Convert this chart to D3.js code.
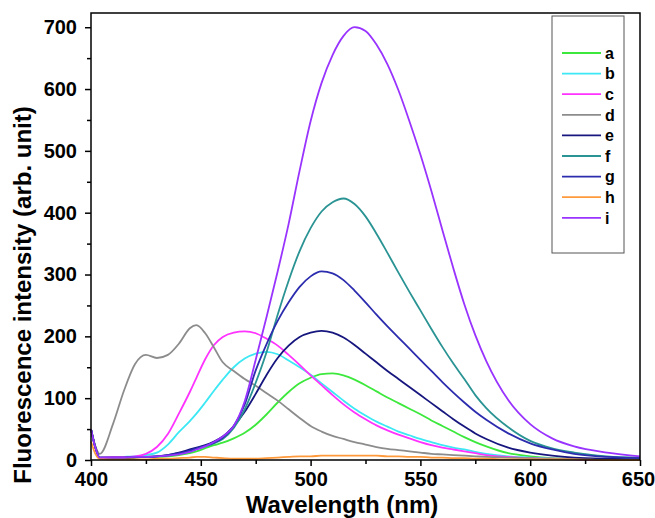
<!DOCTYPE html>
<html>
<head>
<meta charset="utf-8">
<script src="https://cdn.jsdelivr.net/npm/d3@7"></script>
<style>
  body { margin: 0; background: #fff; }
  text { font-family: "Liberation Sans", Arial, sans-serif; font-weight: bold; fill: #000; }
</style>
</head>
<body>
<div id="chart"></div>
<script>

// wavelength grid (nm) shared by all spectra
const wavelength = [400, 402, 404, 410, 415, 420, 425, 430, 435, 440, 445, 448, 452, 456, 460, 465, 470, 475, 480, 485,
                    490, 495, 500, 505, 510, 515, 520, 525, 530, 535, 540, 545, 550, 555, 560, 565, 570, 575, 580, 590,
                    600, 610, 620, 635, 650]

const seriesA = [50, 22, 4, 4, 4, 4, 5, 5, 6, 8, 11, 14, 19, 24, 28, 35, 44, 57, 74, 93,
                 110, 124, 133, 139, 140, 137, 130, 121, 111, 101, 92, 83, 74, 64, 55, 46, 37, 29, 22, 11,
                 6, 3, 2, 1, 1]
const seriesB = [50, 20, 4, 4, 5, 6, 8, 12, 25, 45, 63, 75, 93, 112, 130, 150, 164, 172, 175, 171,
                 161, 150, 138, 124, 110, 96, 83, 72, 62, 54, 46, 40, 34, 29, 24, 20, 17, 13, 10, 6,
                 4, 2, 1, 1, 0]
const seriesC = [50, 20, 4, 5, 5, 6, 10, 21, 42, 75, 110, 133, 163, 186, 199, 206, 208, 205, 196, 185,
                 170, 154, 137, 121, 105, 90, 77, 66, 56, 48, 41, 35, 29, 24, 20, 17, 14, 11, 8, 5,
                 3, 2, 1, 0, 0]
const seriesD = [50, 22, 10, 58, 112, 155, 170, 165, 170, 188, 213, 218, 205, 182, 158, 144, 131, 120, 108, 96,
                 82, 68, 55, 46, 39, 34, 29, 25, 21, 18, 16, 14, 12, 10, 9, 8, 7, 6, 5, 4,
                 3, 2, 2, 1, 1]
const seriesE = [50, 20, 3, 3, 3, 4, 5, 6, 8, 12, 17, 20, 24, 30, 38, 55, 78, 107, 138, 165,
                 185, 199, 206, 209, 206, 198, 186, 172, 158, 144, 131, 118, 105, 92, 79, 66, 54, 43, 34, 20,
                 12, 7, 4, 2, 1]
const seriesF = [50, 20, 4, 4, 4, 5, 5, 6, 7, 10, 14, 18, 22, 27, 34, 52, 82, 125, 175, 235,
                 290, 338, 375, 402, 417, 423, 414, 394, 366, 335, 303, 272, 242, 212, 183, 156, 131, 105, 84, 53,
                 31, 19, 12, 6, 4]
const seriesG = [50, 20, 4, 4, 4, 5, 5, 6, 8, 11, 15, 19, 23, 28, 36, 55, 90, 145, 188, 225,
                 255, 280, 297, 305, 302, 291, 274, 255, 235, 216, 198, 180, 162, 144, 126, 109, 93, 78, 65, 43,
                 27, 17, 10, 5, 3]
const seriesH = [30, 10, 2, 1, 1, 1, 1, 2, 2, 3, 4, 5, 5, 4, 3, 2, 2, 2, 3, 4,
                 5, 6, 6, 7, 7, 7, 7, 7, 7, 6, 6, 5, 5, 4, 4, 3, 3, 2, 2, 1,
                 1, 1, 1, 0, 0]
const seriesI = [50, 20, 4, 4, 4, 5, 5, 6, 7, 9, 13, 17, 22, 29, 38, 55, 95, 162, 232, 305,
                 382, 468, 548, 610, 655, 686, 700, 694, 672, 640, 598, 548, 494, 435, 372, 310, 252, 202, 160, 97,
                 58, 35, 22, 12, 6]

const labels  = ["a", "b", "c", "d", "e", "f", "g", "h", "i"]
const colours = ["#3de83d", "#3ce8f4", "#ff33ff", "#8c8c8c", "#16167e", "#2a9393", "#2c2cae", "#ff9a3c", "#9933ff"]
const values  = [seriesA, seriesB, seriesC, seriesD, seriesE, seriesF, seriesG, seriesH, seriesI]

const xTicks = [400, 450, 500, 550, 600, 650]
const xMinor = [425, 475, 525, 575, 625]
const yTicks = [0, 100, 200, 300, 400, 500, 600, 700]
const yMinor = [50, 150, 250, 350, 450, 550, 650]

const width = 655, height = 518
const plot = { left: 91, right: 640, top: 13, bottom: 460 }

const svg = d3.select("#chart").append("svg")
    .attr("width", width)
    .attr("height", height)

const x = d3.scaleLinear().domain([400, 650]).range([plot.left, plot.right])
const y = d3.scaleLinear().domain([0, 723]).range([plot.bottom, plot.top])

// spectra
const line = d3.line()
    .x(d => x(d[0]))
    .y(d => y(d[1]))
    .curve(d3.curveMonotoneX)

svg.append("g")
    .selectAll("path")
    .data(values)
    .join("path")
    .attr("d", v => line(wavelength.map((w, i) => [w, v[i]])))
    .attr("fill", "none")
    .attr("stroke", (d, i) => colours[i])
    .attr("stroke-width", 1.8)

// frame
svg.append("rect")
    .attr("x", plot.left)
    .attr("y", plot.top)
    .attr("width", plot.right - plot.left)
    .attr("height", plot.bottom - plot.top)
    .attr("fill", "none")
    .attr("stroke", "#000")
    .attr("stroke-width", 1.5)

// axes
const xAxis = svg.append("g")
    .attr("transform", `translate(0,${plot.bottom})`)
    .call(d3.axisBottom(x).tickValues(xTicks).tickSize(6).tickPadding(6).tickSizeOuter(0))
svg.append("g")
    .attr("transform", `translate(0,${plot.bottom})`)
    .call(d3.axisBottom(x).tickValues(xMinor).tickSize(4).tickFormat("").tickSizeOuter(0))

svg.append("g")
    .attr("transform", `translate(${plot.left},0)`)
    .call(d3.axisLeft(y).tickValues(yTicks).tickSize(6).tickPadding(8).tickSizeOuter(0))
svg.append("g")
    .attr("transform", `translate(${plot.left},0)`)
    .call(d3.axisLeft(y).tickValues(yMinor).tickSize(4).tickFormat("").tickSizeOuter(0))

svg.selectAll(".domain").remove()
svg.selectAll(".tick line").attr("stroke", "#000").attr("stroke-width", 1.5)
svg.selectAll(".tick text")
    .style("font-family", '"Liberation Sans", Arial, sans-serif')
    .style("font-weight", "bold")
    .style("font-size", "20px")
    .attr("fill", "#000")

// keep the last x label inside the window
xAxis.selectAll(".tick:last-of-type text").attr("dx", -2)

// axis titles
svg.append("text")
    .attr("x", 342)
    .attr("y", 513)
    .attr("text-anchor", "middle")
    .style("font-size", "24px")
    .text("Wavelength (nm)")

svg.append("text")
    .attr("transform", "translate(31,295) rotate(-90)")
    .attr("text-anchor", "middle")
    .style("font-size", "24px")
    .text("Fluorescence intensity (arb. unit)")

// legend
const legend = svg.append("g")
legend.append("rect")
    .attr("x", 552)
    .attr("y", 16)
    .attr("width", 72)
    .attr("height", 237)
    .attr("fill", "#fff")
    .attr("stroke", "#555")
    .attr("stroke-width", 1)

const row = legend.selectAll("g.row")
    .data(labels)
    .join("g")
    .attr("class", "row")
    .attr("transform", (d, i) => `translate(0,${53 + i * 20.6})`)

row.append("line")
    .attr("x1", 562)
    .attr("x2", 601)
    .attr("stroke", (d, i) => colours[i])
    .attr("stroke-width", 1.8)

row.append("text")
    .attr("x", 605)
    .attr("dy", "0.36em")
    .style("font-size", "16px")
    .text(d => d)

</script>
</body>
</html>
